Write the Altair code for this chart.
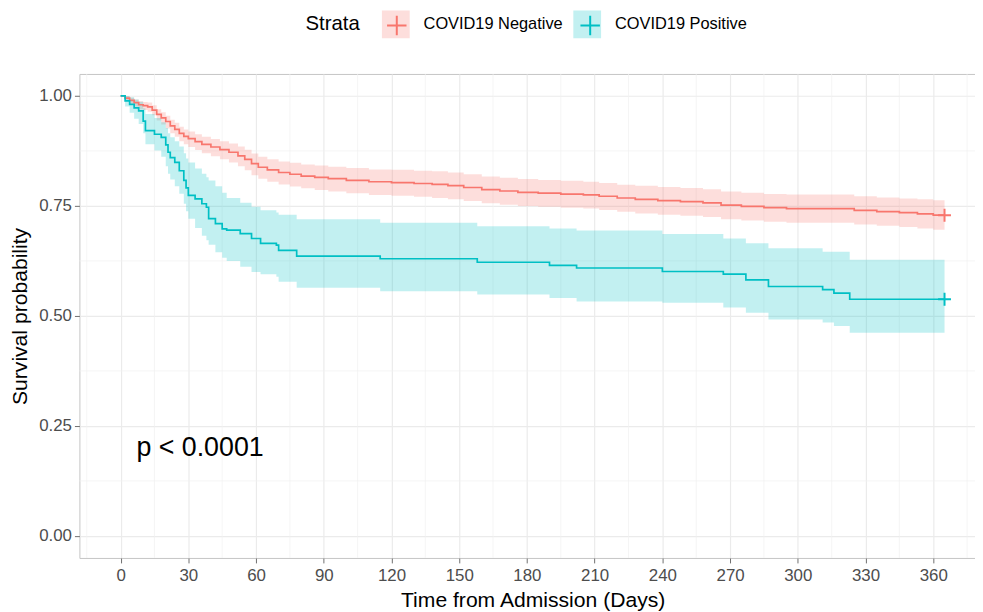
import altair as alt
import pandas as pd

FONT = "Liberation Sans"

# ---------------- data ----------------
strata_names = ["COVID19 Negative", "COVID19 Positive"]
line_colors = ["#F8766D", "#00BFC4"]

neg_time = [0, 2, 4, 6, 8, 10, 12, 14, 16, 18, 20, 22, 24, 26, 28, 30, 33, 36, 40, 44,
            48, 52, 55, 58, 61, 65, 70, 75, 80, 86, 92, 100, 110, 120, 130, 138, 145, 152, 160, 168,
            176, 185, 195, 205, 212, 220, 228, 238, 248, 258, 266, 275, 285, 295, 325, 335, 345, 353, 360, 365]
neg_surv = [1.000, 0.995, 0.990, 0.985, 0.980, 0.978, 0.975, 0.968, 0.958, 0.950, 0.942, 0.932, 0.924, 0.915, 0.908, 0.903, 0.896, 0.890, 0.884, 0.878,
            0.872, 0.864, 0.856, 0.846, 0.838, 0.832, 0.826, 0.822, 0.818, 0.815, 0.812, 0.808, 0.805, 0.803, 0.801, 0.799, 0.796, 0.792, 0.787, 0.784,
            0.781, 0.779, 0.777, 0.775, 0.772, 0.768, 0.765, 0.762, 0.760, 0.757, 0.752, 0.749, 0.746, 0.744, 0.740, 0.737, 0.735, 0.732, 0.729, 0.729]
neg_upper = [1.000, 1.000, 0.996, 0.992, 0.988, 0.986, 0.985, 0.979, 0.970, 0.963, 0.955, 0.946, 0.939, 0.930, 0.924, 0.919, 0.913, 0.907, 0.902, 0.897,
             0.892, 0.885, 0.878, 0.869, 0.862, 0.856, 0.851, 0.848, 0.844, 0.842, 0.839, 0.836, 0.833, 0.832, 0.830, 0.829, 0.826, 0.822, 0.817, 0.814,
             0.811, 0.809, 0.807, 0.805, 0.802, 0.798, 0.796, 0.793, 0.791, 0.788, 0.783, 0.780, 0.777, 0.776, 0.772, 0.769, 0.767, 0.765, 0.763, 0.763]
neg_lower = [1.000, 0.989, 0.982, 0.976, 0.970, 0.968, 0.964, 0.956, 0.944, 0.935, 0.926, 0.915, 0.907, 0.897, 0.890, 0.884, 0.877, 0.870, 0.863, 0.856,
             0.849, 0.840, 0.831, 0.820, 0.812, 0.805, 0.799, 0.794, 0.790, 0.786, 0.783, 0.779, 0.775, 0.773, 0.771, 0.768, 0.765, 0.761, 0.756, 0.753,
             0.750, 0.748, 0.746, 0.744, 0.741, 0.737, 0.733, 0.730, 0.728, 0.725, 0.720, 0.717, 0.714, 0.712, 0.708, 0.705, 0.702, 0.699, 0.696, 0.696]

pos_time = [0, 2, 4, 6, 8, 10, 11, 15, 18, 20, 21, 22, 24, 26, 28, 29, 30, 33, 36, 38,
            39, 42, 45, 47, 53, 58, 62, 69, 70, 78, 115, 158, 190, 202, 240, 267, 277, 287, 311, 316,
            323, 365]
pos_surv = [1.000, 0.989, 0.981, 0.973, 0.966, 0.943, 0.921, 0.913, 0.906, 0.889, 0.872, 0.860, 0.849, 0.830, 0.808, 0.791, 0.774, 0.766, 0.755, 0.747,
            0.721, 0.710, 0.698, 0.695, 0.687, 0.676, 0.665, 0.661, 0.649, 0.636, 0.630, 0.622, 0.615, 0.609, 0.601, 0.595, 0.582, 0.567, 0.560, 0.552,
            0.538, 0.538]
pos_upper = [1.000, 1.000, 0.997, 0.992, 0.987, 0.972, 0.959, 0.950, 0.940, 0.927, 0.915, 0.906, 0.897, 0.885, 0.870, 0.858, 0.849, 0.835, 0.823, 0.815,
             0.808, 0.795, 0.780, 0.768, 0.757, 0.748, 0.740, 0.735, 0.730, 0.720, 0.712, 0.704, 0.699, 0.694, 0.686, 0.676, 0.665, 0.654, 0.646, 0.646,
             0.628, 0.628]
pos_lower = [1.000, 0.976, 0.962, 0.948, 0.936, 0.915, 0.890, 0.876, 0.862, 0.840, 0.823, 0.810, 0.795, 0.778, 0.755, 0.738, 0.721, 0.700, 0.682, 0.672,
             0.662, 0.645, 0.632, 0.625, 0.612, 0.600, 0.595, 0.589, 0.578, 0.564, 0.556, 0.549, 0.541, 0.533, 0.530, 0.519, 0.507, 0.492, 0.485, 0.477,
             0.462, 0.462]

x_ticks = [0, 30, 60, 90, 120, 150, 180, 210, 240, 270, 300, 330, 360]
y_ticks = [0.00, 0.25, 0.50, 0.75, 1.00]
x_minor = [-15, 15, 45, 75, 105, 135, 165, 195, 225, 255, 285, 315, 345, 375]
y_minor = [0.125, 0.375, 0.625, 0.875]

pval_text = ["p < 0.0001"]
pval_x = [7]
pval_y = [0.2]

# ---------------- tables ----------------
curves = pd.concat([
    pd.DataFrame({"time": neg_time, "surv": neg_surv, "lower": neg_lower, "upper": neg_upper,
                  "strata": strata_names[0]}),
    pd.DataFrame({"time": pos_time, "surv": pos_surv, "lower": pos_lower, "upper": pos_upper,
                  "strata": strata_names[1]}),
], ignore_index=True)
curves["strata_key"] = curves["strata"]

ends = pd.DataFrame({"time": [neg_time[-1], pos_time[-1]],
                     "surv": [neg_surv[-1], pos_surv[-1]],
                     "strata_key": strata_names})

PLUS = "M-0.7,0H0.7M0,-0.7V0.7"
BAND_OPACITY = 0.24

xscale = alt.Scale(domain=[-18.25, 378.5], nice=False, zero=False)
yscale = alt.Scale(domain=[-0.05, 1.05], nice=False, zero=False)

X_TITLE = "Time from Admission (Days)"
Y_TITLE = "Survival probability"

xaxis = alt.Axis(values=x_ticks, title=X_TITLE, grid=True,
                 gridColor="#EBEBEB", gridWidth=1.2, domain=False,
                 tickColor="#6E6E6E", tickSize=5, tickWidth=1,
                 labelFont=FONT, labelFontSize=17, labelColor="#4D4D4D", labelPadding=5,
                 labelFlush=False,
                 titleFont=FONT, titleFontSize=21.3, titleFontWeight="normal", titleColor="black",
                 titlePadding=6, titleX=457)
yaxis = alt.Axis(values=y_ticks, format=".2f", title=Y_TITLE, grid=True,
                 gridColor="#EBEBEB", gridWidth=1.2, domain=False,
                 tickColor="#6E6E6E", tickSize=5, tickWidth=1,
                 labelFont=FONT, labelFontSize=17, labelColor="#4D4D4D", labelPadding=3,
                 labelFlush=False,
                 titleFont=FONT, titleFontSize=21.3, titleFontWeight="normal", titleColor="black",
                 titlePadding=8)

common_legend = dict(orient="none", legendX=228, legendY=-64, direction="horizontal",
                     titleOrient="left", titleFontSize=20.5, titleFontWeight="normal",
                     titleFont=FONT, titlePadding=22, titleAnchor="middle", titleBaseline="middle",
                     symbolSize=784, labelFontSize=16.5, labelFont=FONT, labelOffset=14,
                     columnPadding=10, padding=0)

fill_legend = alt.Legend(title="Strata", titleColor="black", labelColor="black",
                         symbolType="square", symbolOpacity=BAND_OPACITY, symbolStrokeWidth=0,
                         zindex=0, **common_legend)
plus_legend = alt.Legend(title="Strata", titleColor="transparent", labelColor="transparent",
                         symbolType=PLUS, symbolStrokeWidth=2, symbolFillColor="transparent",
                         zindex=1, **common_legend)


def X(field):
    return alt.X(field, scale=xscale, axis=xaxis, title=X_TITLE)


def Y(field):
    return alt.Y(field, scale=yscale, axis=yaxis, title=Y_TITLE)


grid_x = alt.Chart(pd.DataFrame({"x": x_minor})).mark_rule(color="#F1F1F1", strokeWidth=0.7).encode(
    x=X("x:Q"))
grid_y = alt.Chart(pd.DataFrame({"y": y_minor})).mark_rule(color="#F1F1F1", strokeWidth=0.7).encode(
    y=Y("y:Q"))

base = alt.Chart(curves)
band = base.mark_area(interpolate="step-after", opacity=BAND_OPACITY).encode(
    x=X("time:Q"),
    y=Y("lower:Q"),
    y2="upper:Q",
    fill=alt.Fill("strata:N", scale=alt.Scale(range=line_colors), legend=fill_legend),
)
lines = base.mark_line(interpolate="step-after", strokeWidth=1.7).encode(
    x=X("time:Q"),
    y=Y("surv:Q"),
    stroke=alt.Stroke("strata_key:N", scale=alt.Scale(range=line_colors), legend=plus_legend),
)
cens = alt.Chart(ends).mark_point(shape=PLUS, size=345, strokeWidth=2, filled=False, opacity=1).encode(
    x=X("time:Q"),
    y=Y("surv:Q"),
    stroke=alt.Stroke("strata_key:N", scale=alt.Scale(range=line_colors), legend=plus_legend),
)
ptext = alt.Chart(pd.DataFrame({"x": pval_x, "y": pval_y, "label": pval_text})).mark_text(
    align="left", baseline="middle", fontSize=27, font=FONT, color="black").encode(
    x=X("x:Q"), y=Y("y:Q"), text="label:N")

chart = alt.layer(grid_x, grid_y, band, lines, cens, ptext).properties(
    width=903, height=488,
    autosize=alt.AutoSizeParams(type="none"),
    padding={"left": 72, "top": 64, "right": 0, "bottom": 52},
).configure_view(stroke="#C4C4C4", strokeWidth=1)

chart.save("out.html", embed_options={"renderer": "svg", "actions": False})
